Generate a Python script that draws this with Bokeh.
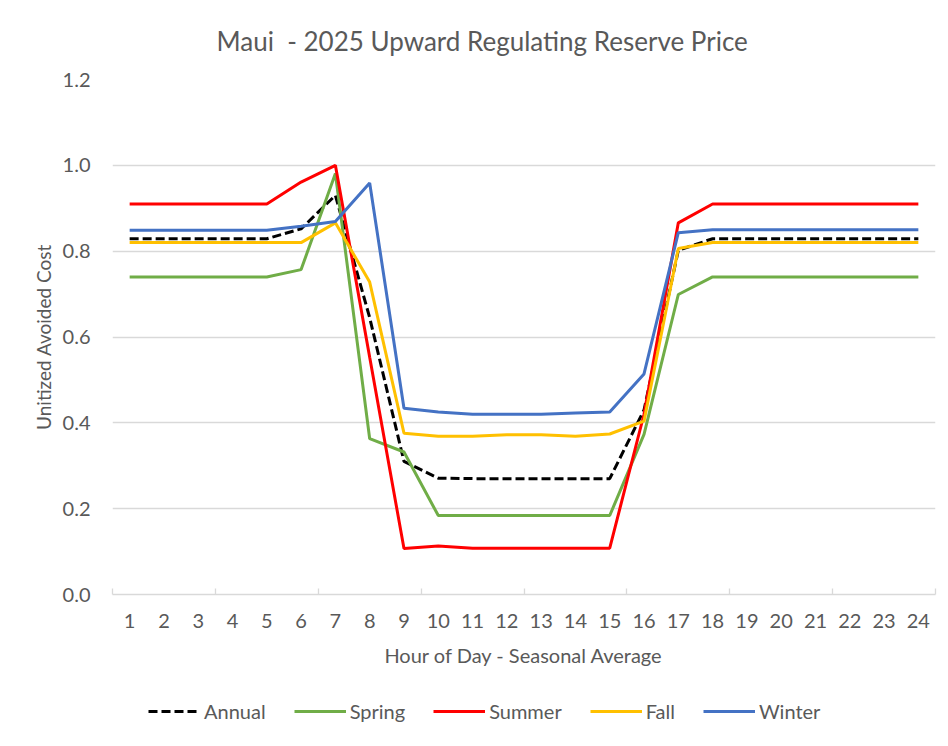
from bokeh.plotting import figure
from bokeh.layouts import column
from bokeh.models import FixedTicker, Legend, LegendItem, PrintfTickFormatter, Range1d
from bokeh.embed import file_html
from bokeh.resources import INLINE

hours = list(range(1, 25))
annual = [0.829, 0.829, 0.829, 0.829, 0.829, 0.852, 0.930, 0.645, 0.310, 0.271, 0.270, 0.270,
          0.270, 0.270, 0.270, 0.430, 0.802, 0.829, 0.829, 0.829, 0.829, 0.829, 0.829, 0.829]
spring = [0.740, 0.740, 0.740, 0.740, 0.740, 0.757, 0.981, 0.363, 0.332, 0.184, 0.184, 0.184,
          0.184, 0.184, 0.184, 0.373, 0.699, 0.740, 0.740, 0.740, 0.740, 0.740, 0.740, 0.740]
summer = [0.910, 0.910, 0.910, 0.910, 0.910, 0.961, 1.000, 0.553, 0.107, 0.113, 0.108, 0.108,
          0.108, 0.108, 0.108, 0.420, 0.866, 0.910, 0.910, 0.910, 0.910, 0.910, 0.910, 0.910]
fall = [0.820, 0.820, 0.820, 0.820, 0.820, 0.820, 0.866, 0.728, 0.376, 0.369, 0.369, 0.372,
        0.372, 0.369, 0.374, 0.404, 0.806, 0.820, 0.820, 0.820, 0.820, 0.820, 0.820, 0.820]
winter = [0.849, 0.849, 0.849, 0.849, 0.849, 0.858, 0.869, 0.959, 0.434, 0.425, 0.420, 0.420,
          0.420, 0.423, 0.425, 0.514, 0.843, 0.850, 0.850, 0.850, 0.850, 0.850, 0.850, 0.850]
series_names = ["Annual", "Spring", "Summer", "Fall", "Winter"]
y_ticks = [0.0, 0.2, 0.4, 0.6, 0.8, 1.0, 1.2]
boundary_ticks = [0.5, 3.5, 6.5, 9.5, 12.5, 15.5, 18.5, 21.5, 24.5]

FONT = "Lato"
GREY = "#595959"
styles = [
    dict(line_color="#000000", line_width=3, line_dash="9 4"),
    dict(line_color="#70AD47", line_width=3),
    dict(line_color="#FF0000", line_width=3),
    dict(line_color="#FFC000", line_width=3),
    dict(line_color="#4472C4", line_width=3),
]

p = figure(width=940, height=680, x_range=(0.5, 24.5), y_range=(0, 1.2),
           output_backend="svg", toolbar_location=None,
           min_border_left=112, min_border_right=5, min_border_top=79, min_border_bottom=86,
           title="Maui \u00a0- 2025 Upward Regulating Reserve Price")
p.outline_line_color = None
p.title.text_font = FONT
p.title.text_font_size = "26px"
p.title.text_font_style = "normal"
p.title.text_color = GREY
p.title.align = "left"
p.title.offset = 104
p.title.standoff = 45

p.xgrid.grid_line_color = None
p.ygrid.grid_line_color = "#d9d9d9"
p.ygrid.grid_line_width = 1.3
p.ygrid.ticker = FixedTicker(ticks=y_ticks)

xa = p.xaxis[0]
xa.ticker = FixedTicker(ticks=hours, minor_ticks=boundary_ticks)
xa.axis_line_color = "#d9d9d9"
xa.axis_line_width = 1.3
xa.major_tick_line_color = None
xa.minor_tick_line_color = "#d9d9d9"
xa.minor_tick_line_width = 1.3
xa.minor_tick_in = 6
xa.minor_tick_out = 0
xa.major_label_standoff = 13
xa.major_label_text_font = FONT
xa.major_label_text_font_size = "20px"
xa.major_label_text_color = GREY
xa.axis_label = "Hour of Day - Seasonal Average"
xa.axis_label_text_font = FONT
xa.axis_label_text_font_size = "20px"
xa.axis_label_text_font_style = "normal"
xa.axis_label_text_color = GREY
xa.axis_label_standoff = 12

ya = p.yaxis[0]
ya.ticker = FixedTicker(ticks=y_ticks)
ya.formatter = PrintfTickFormatter(format="%.1f")
ya.axis_line_color = None
ya.major_tick_line_color = None
ya.minor_tick_line_color = None
ya.major_label_standoff = 16
ya.major_label_text_font = FONT
ya.major_label_text_font_size = "20px"
ya.major_label_text_color = GREY
ya.axis_label = "Unitized Avoided Cost"
ya.axis_label_text_font = FONT
ya.axis_label_text_font_size = "19px"
ya.axis_label_text_font_style = "normal"
ya.axis_label_text_color = GREY
ya.axis_label_standoff = 5

for vals, st in zip([annual, spring, summer, fall, winter], styles):
    p.line(hours, vals, **st)

# legend strip below the chart (its frame is aligned with the chart's frame)
lf = figure(width=940, height=58, x_range=Range1d(0, 1), y_range=Range1d(0, 1),
            output_backend="svg", toolbar_location=None, x_axis_type=None, y_axis_type=None,
            min_border_left=112, min_border_right=5, min_border_top=0, min_border_bottom=0)
lf.outline_line_color = None
lf.grid.grid_line_color = None
items = []
for name, st in zip(series_names, styles):
    r = lf.line([-5, -4], [-5, -4], **st)  # off-screen proxy, only used for the legend swatch
    items.append(LegendItem(label=name, renderers=[r]))
legend = Legend(items=items, orientation="horizontal", location=(36, 15))
legend.border_line_color = None
legend.background_fill_alpha = 0
legend.label_text_font = FONT
legend.label_text_font_size = "20px"
legend.label_text_color = GREY
legend.glyph_width = 52
legend.label_standoff = 4
legend.spacing = 28
legend.padding = 5
legend.margin = 0
lf.add_layout(legend, "center")

layout = column(p, lf, spacing=0)
open("out.html", "w").write(file_html(layout, INLINE))
